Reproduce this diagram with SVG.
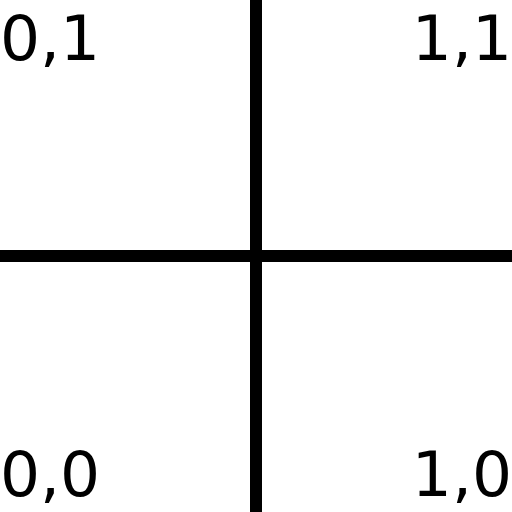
<svg xmlns="http://www.w3.org/2000/svg" width="512" height="512" viewBox="0 0 512 512">
<style>
.lbl{font-family:"DejaVu Sans",sans-serif;font-size:63px;fill:#000}
.ax{stroke:#000;stroke-width:12;fill:none}
</style>
<rect width="512" height="512" fill="#fff"/>
<g id="connectors">
<line class="ax" x1="256" y1="0" x2="256" y2="512"/>
<line class="ax" x1="0" y1="256" x2="512" y2="256"/>
</g>
<g id="n01"><text class="lbl" x="0" y="60">0,1</text></g>
<g id="n11"><text class="lbl" x="512" y="60" text-anchor="end">1,1</text></g>
<g id="n00"><text class="lbl" x="0" y="496">0,0</text></g>
<g id="n10"><text class="lbl" x="512" y="496" text-anchor="end">1,0</text></g>
</svg>
